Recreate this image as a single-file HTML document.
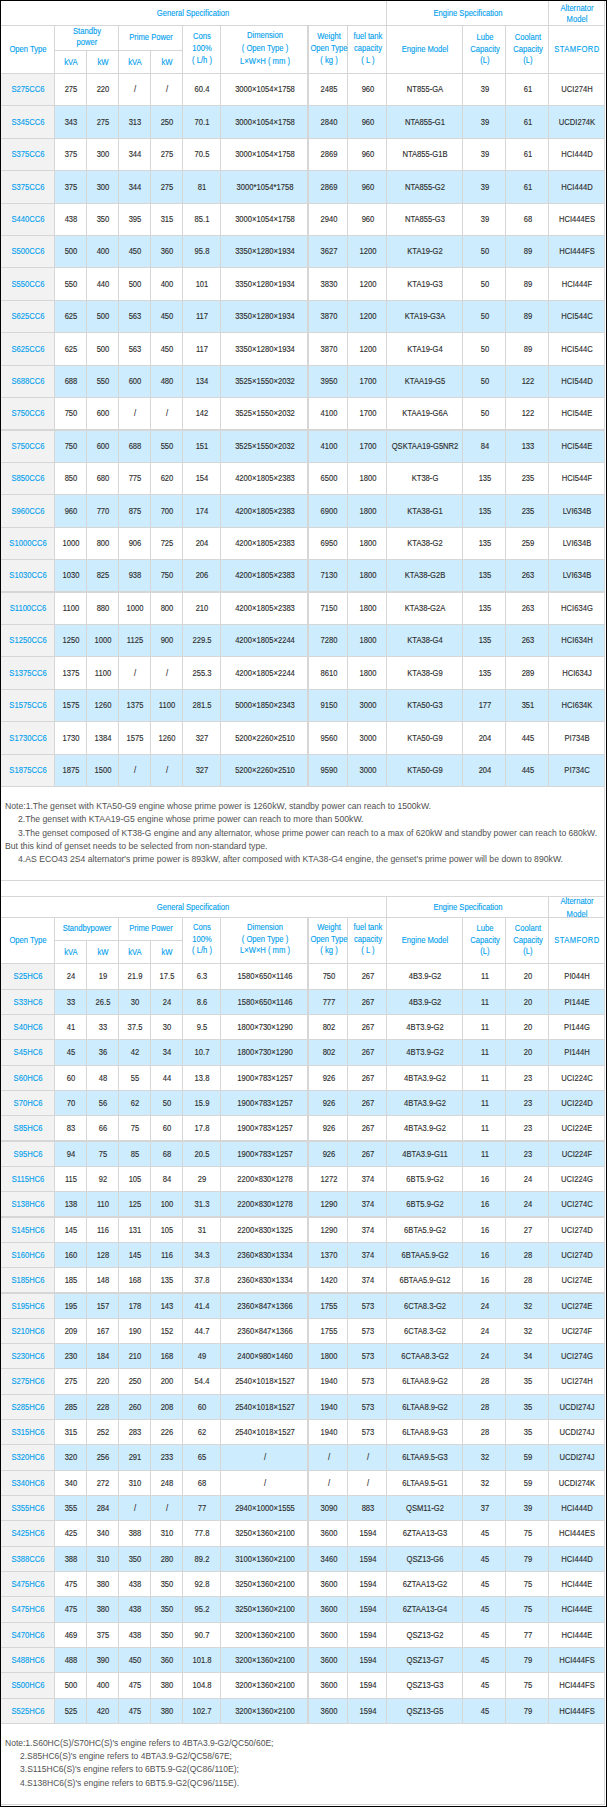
<!DOCTYPE html>
<html><head><meta charset="utf-8"><title>Genset specification</title><style>
html,body{margin:0;padding:0;background:#fff}
body{width:607px;height:1807px;position:relative;overflow:hidden;font-family:"Liberation Sans",sans-serif}
#pg{position:absolute;left:0;top:0;width:605px;height:1805px;border:1px solid #000}
svg{position:absolute;left:0;top:0}
.t{position:absolute;width:120px;height:12px;line-height:12px;text-align:center;white-space:nowrap;font-size:8.2px;transform:scaleX(.93);-webkit-text-stroke:.12px currentColor}
.s{letter-spacing:.42px}
.h{color:#00a0ee}
.d{color:#2b2b2b}
.n{position:absolute;height:12px;line-height:12px;white-space:nowrap;font-size:8.2px;color:#505050;transform-origin:0 50%}
</style></head>
<body>
<svg width="607" height="1807" viewBox="0 0 607 1807">
<rect x="1" y="74" width="53" height="31" fill="#f2f2f2"/>
<rect x="1" y="106" width="53" height="32" fill="#f2f2f2"/>
<rect x="55" y="106" width="549" height="32" fill="#cdecfd"/>
<rect x="1" y="139" width="53" height="31" fill="#f2f2f2"/>
<rect x="1" y="171" width="53" height="32" fill="#f2f2f2"/>
<rect x="55" y="171" width="549" height="32" fill="#cdecfd"/>
<rect x="1" y="204" width="53" height="31" fill="#f2f2f2"/>
<rect x="1" y="236" width="53" height="31" fill="#f2f2f2"/>
<rect x="55" y="236" width="549" height="31" fill="#cdecfd"/>
<rect x="1" y="268" width="53" height="32" fill="#f2f2f2"/>
<rect x="1" y="301" width="53" height="31" fill="#f2f2f2"/>
<rect x="55" y="301" width="549" height="31" fill="#cdecfd"/>
<rect x="1" y="333" width="53" height="32" fill="#f2f2f2"/>
<rect x="1" y="366" width="53" height="31" fill="#f2f2f2"/>
<rect x="55" y="366" width="549" height="31" fill="#cdecfd"/>
<rect x="1" y="398" width="53" height="31" fill="#f2f2f2"/>
<rect x="1" y="431" width="53" height="31" fill="#f2f2f2"/>
<rect x="55" y="431" width="549" height="31" fill="#cdecfd"/>
<rect x="1" y="463" width="53" height="31" fill="#f2f2f2"/>
<rect x="1" y="495" width="53" height="32" fill="#f2f2f2"/>
<rect x="55" y="495" width="549" height="32" fill="#cdecfd"/>
<rect x="1" y="528" width="53" height="31" fill="#f2f2f2"/>
<rect x="1" y="560" width="53" height="31" fill="#f2f2f2"/>
<rect x="55" y="560" width="549" height="31" fill="#cdecfd"/>
<rect x="1" y="593" width="53" height="31" fill="#f2f2f2"/>
<rect x="1" y="625" width="53" height="31" fill="#f2f2f2"/>
<rect x="55" y="625" width="549" height="31" fill="#cdecfd"/>
<rect x="1" y="657" width="53" height="32" fill="#f2f2f2"/>
<rect x="1" y="690" width="53" height="31" fill="#f2f2f2"/>
<rect x="55" y="690" width="549" height="31" fill="#cdecfd"/>
<rect x="1" y="722" width="53" height="32" fill="#f2f2f2"/>
<rect x="1" y="755" width="53" height="31" fill="#f2f2f2"/>
<rect x="55" y="755" width="549" height="31" fill="#cdecfd"/>
<rect x="1" y="25" width="604" height="1" fill="#d6d6d6"/>
<rect x="54" y="50" width="128" height="1" fill="#d6d6d6"/>
<rect x="1" y="73" width="604" height="1" fill="#d6d6d6"/>
<rect x="1" y="105" width="604" height="1" fill="#d6d6d6"/>
<rect x="1" y="138" width="604" height="1" fill="#d6d6d6"/>
<rect x="1" y="170" width="604" height="1" fill="#d6d6d6"/>
<rect x="1" y="203" width="604" height="1" fill="#d6d6d6"/>
<rect x="1" y="235" width="604" height="1" fill="#d6d6d6"/>
<rect x="1" y="267" width="604" height="1" fill="#d6d6d6"/>
<rect x="1" y="300" width="604" height="1" fill="#d6d6d6"/>
<rect x="1" y="332" width="604" height="1" fill="#d6d6d6"/>
<rect x="1" y="365" width="604" height="1" fill="#d6d6d6"/>
<rect x="1" y="397" width="604" height="1" fill="#d6d6d6"/>
<rect x="1" y="429" width="604" height="2" fill="#d6d6d6"/>
<rect x="1" y="462" width="604" height="1" fill="#d6d6d6"/>
<rect x="1" y="494" width="604" height="1" fill="#d6d6d6"/>
<rect x="1" y="527" width="604" height="1" fill="#d6d6d6"/>
<rect x="1" y="559" width="604" height="1" fill="#d6d6d6"/>
<rect x="1" y="591" width="604" height="2" fill="#d6d6d6"/>
<rect x="1" y="624" width="604" height="1" fill="#d6d6d6"/>
<rect x="1" y="656" width="604" height="1" fill="#d6d6d6"/>
<rect x="1" y="689" width="604" height="1" fill="#d6d6d6"/>
<rect x="1" y="721" width="604" height="1" fill="#d6d6d6"/>
<rect x="1" y="754" width="604" height="1" fill="#d6d6d6"/>
<rect x="1" y="786" width="604" height="1" fill="#d6d6d6"/>
<rect x="54" y="25" width="1" height="762" fill="#d6d6d6"/>
<rect x="86" y="50" width="1" height="737" fill="#d6d6d6"/>
<rect x="118" y="25" width="1" height="762" fill="#d6d6d6"/>
<rect x="150" y="50" width="1" height="737" fill="#d6d6d6"/>
<rect x="182" y="25" width="1" height="762" fill="#d6d6d6"/>
<rect x="220" y="25" width="1" height="762" fill="#d6d6d6"/>
<rect x="307" y="25" width="2" height="762" fill="#d6d6d6"/>
<rect x="347" y="25" width="1" height="762" fill="#d6d6d6"/>
<rect x="386" y="1" width="1" height="786" fill="#d6d6d6"/>
<rect x="462" y="25" width="1" height="762" fill="#d6d6d6"/>
<rect x="505" y="25" width="1" height="762" fill="#d6d6d6"/>
<rect x="548" y="1" width="1" height="786" fill="#d6d6d6"/>
<rect x="604" y="1" width="1" height="786" fill="#d6d6d6"/>
<rect x="1" y="880" width="604" height="1" fill="#d6d6d6"/>
<rect x="1" y="964" width="53" height="25" fill="#f2f2f2"/>
<rect x="1" y="990" width="53" height="24" fill="#f2f2f2"/>
<rect x="55" y="990" width="549" height="24" fill="#cdecfd"/>
<rect x="1" y="1015" width="53" height="24" fill="#f2f2f2"/>
<rect x="1" y="1040" width="53" height="25" fill="#f2f2f2"/>
<rect x="55" y="1040" width="549" height="25" fill="#cdecfd"/>
<rect x="1" y="1066" width="53" height="24" fill="#f2f2f2"/>
<rect x="1" y="1091" width="53" height="24" fill="#f2f2f2"/>
<rect x="55" y="1091" width="549" height="24" fill="#cdecfd"/>
<rect x="1" y="1116" width="53" height="24" fill="#f2f2f2"/>
<rect x="1" y="1142" width="53" height="24" fill="#f2f2f2"/>
<rect x="55" y="1142" width="549" height="24" fill="#cdecfd"/>
<rect x="1" y="1167" width="53" height="24" fill="#f2f2f2"/>
<rect x="1" y="1192" width="53" height="24" fill="#f2f2f2"/>
<rect x="55" y="1192" width="549" height="24" fill="#cdecfd"/>
<rect x="1" y="1218" width="53" height="24" fill="#f2f2f2"/>
<rect x="1" y="1243" width="53" height="24" fill="#f2f2f2"/>
<rect x="55" y="1243" width="549" height="24" fill="#cdecfd"/>
<rect x="1" y="1268" width="53" height="24" fill="#f2f2f2"/>
<rect x="1" y="1294" width="53" height="24" fill="#f2f2f2"/>
<rect x="55" y="1294" width="549" height="24" fill="#cdecfd"/>
<rect x="1" y="1319" width="53" height="24" fill="#f2f2f2"/>
<rect x="1" y="1344" width="53" height="24" fill="#f2f2f2"/>
<rect x="55" y="1344" width="549" height="24" fill="#cdecfd"/>
<rect x="1" y="1369" width="53" height="25" fill="#f2f2f2"/>
<rect x="1" y="1395" width="53" height="24" fill="#f2f2f2"/>
<rect x="55" y="1395" width="549" height="24" fill="#cdecfd"/>
<rect x="1" y="1420" width="53" height="24" fill="#f2f2f2"/>
<rect x="1" y="1445" width="53" height="25" fill="#f2f2f2"/>
<rect x="55" y="1445" width="549" height="25" fill="#cdecfd"/>
<rect x="1" y="1471" width="53" height="24" fill="#f2f2f2"/>
<rect x="1" y="1496" width="53" height="24" fill="#f2f2f2"/>
<rect x="55" y="1496" width="549" height="24" fill="#cdecfd"/>
<rect x="1" y="1521" width="53" height="25" fill="#f2f2f2"/>
<rect x="1" y="1547" width="53" height="24" fill="#f2f2f2"/>
<rect x="55" y="1547" width="549" height="24" fill="#cdecfd"/>
<rect x="1" y="1572" width="53" height="24" fill="#f2f2f2"/>
<rect x="1" y="1597" width="53" height="25" fill="#f2f2f2"/>
<rect x="55" y="1597" width="549" height="25" fill="#cdecfd"/>
<rect x="1" y="1623" width="53" height="24" fill="#f2f2f2"/>
<rect x="1" y="1648" width="53" height="24" fill="#f2f2f2"/>
<rect x="55" y="1648" width="549" height="24" fill="#cdecfd"/>
<rect x="1" y="1673" width="53" height="25" fill="#f2f2f2"/>
<rect x="1" y="1699" width="53" height="24" fill="#f2f2f2"/>
<rect x="55" y="1699" width="549" height="24" fill="#cdecfd"/>
<rect x="1" y="896" width="604" height="1" fill="#d6d6d6"/>
<rect x="1" y="917" width="604" height="1" fill="#d6d6d6"/>
<rect x="54" y="940" width="128" height="1" fill="#d6d6d6"/>
<rect x="1" y="963" width="604" height="1" fill="#d6d6d6"/>
<rect x="1" y="989" width="604" height="1" fill="#d6d6d6"/>
<rect x="1" y="1014" width="604" height="1" fill="#d6d6d6"/>
<rect x="1" y="1039" width="604" height="1" fill="#d6d6d6"/>
<rect x="1" y="1065" width="604" height="1" fill="#d6d6d6"/>
<rect x="1" y="1090" width="604" height="1" fill="#d6d6d6"/>
<rect x="1" y="1115" width="604" height="1" fill="#d6d6d6"/>
<rect x="1" y="1140" width="604" height="2" fill="#d6d6d6"/>
<rect x="1" y="1166" width="604" height="1" fill="#d6d6d6"/>
<rect x="1" y="1191" width="604" height="1" fill="#d6d6d6"/>
<rect x="1" y="1216" width="604" height="2" fill="#d6d6d6"/>
<rect x="1" y="1242" width="604" height="1" fill="#d6d6d6"/>
<rect x="1" y="1267" width="604" height="1" fill="#d6d6d6"/>
<rect x="1" y="1292" width="604" height="2" fill="#d6d6d6"/>
<rect x="1" y="1318" width="604" height="1" fill="#d6d6d6"/>
<rect x="1" y="1343" width="604" height="1" fill="#d6d6d6"/>
<rect x="1" y="1368" width="604" height="1" fill="#d6d6d6"/>
<rect x="1" y="1394" width="604" height="1" fill="#d6d6d6"/>
<rect x="1" y="1419" width="604" height="1" fill="#d6d6d6"/>
<rect x="1" y="1444" width="604" height="1" fill="#d6d6d6"/>
<rect x="1" y="1470" width="604" height="1" fill="#d6d6d6"/>
<rect x="1" y="1495" width="604" height="1" fill="#d6d6d6"/>
<rect x="1" y="1520" width="604" height="1" fill="#d6d6d6"/>
<rect x="1" y="1546" width="604" height="1" fill="#d6d6d6"/>
<rect x="1" y="1571" width="604" height="1" fill="#d6d6d6"/>
<rect x="1" y="1596" width="604" height="1" fill="#d6d6d6"/>
<rect x="1" y="1622" width="604" height="1" fill="#d6d6d6"/>
<rect x="1" y="1647" width="604" height="1" fill="#d6d6d6"/>
<rect x="1" y="1672" width="604" height="1" fill="#d6d6d6"/>
<rect x="1" y="1698" width="604" height="1" fill="#d6d6d6"/>
<rect x="1" y="1723" width="604" height="1" fill="#d6d6d6"/>
<rect x="54" y="917" width="1" height="807" fill="#d6d6d6"/>
<rect x="86" y="940" width="1" height="784" fill="#d6d6d6"/>
<rect x="118" y="917" width="1" height="807" fill="#d6d6d6"/>
<rect x="150" y="940" width="1" height="784" fill="#d6d6d6"/>
<rect x="182" y="917" width="1" height="807" fill="#d6d6d6"/>
<rect x="220" y="917" width="1" height="807" fill="#d6d6d6"/>
<rect x="307" y="917" width="2" height="807" fill="#d6d6d6"/>
<rect x="347" y="917" width="1" height="807" fill="#d6d6d6"/>
<rect x="386" y="896" width="1" height="828" fill="#d6d6d6"/>
<rect x="462" y="917" width="1" height="807" fill="#d6d6d6"/>
<rect x="505" y="917" width="1" height="807" fill="#d6d6d6"/>
<rect x="548" y="896" width="1" height="828" fill="#d6d6d6"/>
<rect x="604" y="896" width="1" height="828" fill="#d6d6d6"/>
<rect x="604" y="1" width="1" height="1804" fill="#d6d6d6"/>
<rect x="1" y="1804" width="604" height="1" fill="#d6d6d6"/>
</svg>
<div class="t h" style="left:132.80px;top:8.00px">General Specification</div>
<div class="t h" style="left:407.50px;top:8.00px">Engine Specification</div>
<div class="t h" style="left:516.50px;top:3.40px">Alternator</div>
<div class="t h" style="left:516.50px;top:14.20px">Model</div>
<div class="t h" style="left:-32.30px;top:43.50px">Open Type</div>
<div class="t h" style="left:26.50px;top:26.00px">Standby</div>
<div class="t h" style="left:26.50px;top:37.00px">power</div>
<div class="t h" style="left:90.50px;top:32.00px">Prime Power</div>
<div class="t h" style="left:11.00px;top:56.60px">kVA</div>
<div class="t h" style="left:43.00px;top:56.60px">kW</div>
<div class="t h" style="left:75.00px;top:56.60px">kVA</div>
<div class="t h" style="left:107.00px;top:56.60px">kW</div>
<div class="t h" style="left:142.00px;top:30.50px">Cons</div>
<div class="t h" style="left:142.00px;top:42.60px">100%</div>
<div class="t h" style="left:142.00px;top:54.70px">( L/h )</div>
<div class="t h" style="left:204.50px;top:29.60px">Dimension</div>
<div class="t h" style="left:204.50px;top:42.60px">( Open Type )</div>
<div class="t h" style="left:204.50px;top:55.60px">L×W×H ( mm )</div>
<div class="t h" style="left:268.50px;top:30.50px">Weight</div>
<div class="t h" style="left:268.50px;top:42.60px">Open Type</div>
<div class="t h" style="left:268.50px;top:54.70px">( kg )</div>
<div class="t h" style="left:307.50px;top:30.50px">fuel tank</div>
<div class="t h" style="left:307.50px;top:42.60px">capacity</div>
<div class="t h" style="left:307.50px;top:54.70px">( L )</div>
<div class="t h" style="left:424.50px;top:31.90px">Lube</div>
<div class="t h" style="left:424.50px;top:43.50px">Capacity</div>
<div class="t h" style="left:424.50px;top:55.10px">(L)</div>
<div class="t h" style="left:467.50px;top:31.90px">Coolant</div>
<div class="t h" style="left:467.50px;top:43.50px">Capacity</div>
<div class="t h" style="left:467.50px;top:55.10px">(L)</div>
<div class="t h" style="left:365.00px;top:43.50px">Engine Model</div>
<div class="t h s" style="left:517.20px;top:43.50px">STAMFORD</div>
<div class="t h" style="left:-31.60px;top:84.01px">S275CC6</div>
<div class="t d" style="left:11.00px;top:84.01px">275</div>
<div class="t d" style="left:43.00px;top:84.01px">220</div>
<div class="t d" style="left:75.00px;top:84.01px">/</div>
<div class="t d" style="left:107.00px;top:84.01px">/</div>
<div class="t d" style="left:142.00px;top:84.01px">60.4</div>
<div class="t d" style="left:204.50px;top:84.01px">3000×1054×1758</div>
<div class="t d" style="left:268.50px;top:84.01px">2485</div>
<div class="t d" style="left:307.50px;top:84.01px">960</div>
<div class="t d" style="left:365.00px;top:84.01px">NT855-GA</div>
<div class="t d" style="left:424.50px;top:84.01px">39</div>
<div class="t d" style="left:467.50px;top:84.01px">61</div>
<div class="t d" style="left:517.00px;top:84.01px">UCI274H</div>
<div class="t h" style="left:-31.60px;top:116.51px">S345CC6</div>
<div class="t d" style="left:11.00px;top:116.51px">343</div>
<div class="t d" style="left:43.00px;top:116.51px">275</div>
<div class="t d" style="left:75.00px;top:116.51px">313</div>
<div class="t d" style="left:107.00px;top:116.51px">250</div>
<div class="t d" style="left:142.00px;top:116.51px">70.1</div>
<div class="t d" style="left:204.50px;top:116.51px">3000×1054×1758</div>
<div class="t d" style="left:268.50px;top:116.51px">2840</div>
<div class="t d" style="left:307.50px;top:116.51px">960</div>
<div class="t d" style="left:365.00px;top:116.51px">NTA855-G1</div>
<div class="t d" style="left:424.50px;top:116.51px">39</div>
<div class="t d" style="left:467.50px;top:116.51px">61</div>
<div class="t d" style="left:517.00px;top:116.51px">UCDI274K</div>
<div class="t h" style="left:-31.60px;top:149.01px">S375CC6</div>
<div class="t d" style="left:11.00px;top:149.01px">375</div>
<div class="t d" style="left:43.00px;top:149.01px">300</div>
<div class="t d" style="left:75.00px;top:149.01px">344</div>
<div class="t d" style="left:107.00px;top:149.01px">275</div>
<div class="t d" style="left:142.00px;top:149.01px">70.5</div>
<div class="t d" style="left:204.50px;top:149.01px">3000×1054×1758</div>
<div class="t d" style="left:268.50px;top:149.01px">2869</div>
<div class="t d" style="left:307.50px;top:149.01px">960</div>
<div class="t d" style="left:365.00px;top:149.01px">NTA855-G1B</div>
<div class="t d" style="left:424.50px;top:149.01px">39</div>
<div class="t d" style="left:467.50px;top:149.01px">61</div>
<div class="t d" style="left:517.00px;top:149.01px">HCI444D</div>
<div class="t h" style="left:-31.60px;top:181.51px">S375CC6</div>
<div class="t d" style="left:11.00px;top:181.51px">375</div>
<div class="t d" style="left:43.00px;top:181.51px">300</div>
<div class="t d" style="left:75.00px;top:181.51px">344</div>
<div class="t d" style="left:107.00px;top:181.51px">275</div>
<div class="t d" style="left:142.00px;top:181.51px">81</div>
<div class="t d" style="left:204.50px;top:181.51px">3000*1054*1758</div>
<div class="t d" style="left:268.50px;top:181.51px">2869</div>
<div class="t d" style="left:307.50px;top:181.51px">960</div>
<div class="t d" style="left:365.00px;top:181.51px">NTA855-G2</div>
<div class="t d" style="left:424.50px;top:181.51px">39</div>
<div class="t d" style="left:467.50px;top:181.51px">61</div>
<div class="t d" style="left:517.00px;top:181.51px">HCI444D</div>
<div class="t h" style="left:-31.60px;top:214.01px">S440CC6</div>
<div class="t d" style="left:11.00px;top:214.01px">438</div>
<div class="t d" style="left:43.00px;top:214.01px">350</div>
<div class="t d" style="left:75.00px;top:214.01px">395</div>
<div class="t d" style="left:107.00px;top:214.01px">315</div>
<div class="t d" style="left:142.00px;top:214.01px">85.1</div>
<div class="t d" style="left:204.50px;top:214.01px">3000×1054×1758</div>
<div class="t d" style="left:268.50px;top:214.01px">2940</div>
<div class="t d" style="left:307.50px;top:214.01px">960</div>
<div class="t d" style="left:365.00px;top:214.01px">NTA855-G3</div>
<div class="t d" style="left:424.50px;top:214.01px">39</div>
<div class="t d" style="left:467.50px;top:214.01px">68</div>
<div class="t d" style="left:517.00px;top:214.01px">HCI444ES</div>
<div class="t h" style="left:-31.60px;top:246.01px">S500CC6</div>
<div class="t d" style="left:11.00px;top:246.01px">500</div>
<div class="t d" style="left:43.00px;top:246.01px">400</div>
<div class="t d" style="left:75.00px;top:246.01px">450</div>
<div class="t d" style="left:107.00px;top:246.01px">360</div>
<div class="t d" style="left:142.00px;top:246.01px">95.8</div>
<div class="t d" style="left:204.50px;top:246.01px">3350×1280×1934</div>
<div class="t d" style="left:268.50px;top:246.01px">3627</div>
<div class="t d" style="left:307.50px;top:246.01px">1200</div>
<div class="t d" style="left:365.00px;top:246.01px">KTA19-G2</div>
<div class="t d" style="left:424.50px;top:246.01px">50</div>
<div class="t d" style="left:467.50px;top:246.01px">89</div>
<div class="t d" style="left:517.00px;top:246.01px">HCI444FS</div>
<div class="t h" style="left:-31.60px;top:278.51px">S550CC6</div>
<div class="t d" style="left:11.00px;top:278.51px">550</div>
<div class="t d" style="left:43.00px;top:278.51px">440</div>
<div class="t d" style="left:75.00px;top:278.51px">500</div>
<div class="t d" style="left:107.00px;top:278.51px">400</div>
<div class="t d" style="left:142.00px;top:278.51px">101</div>
<div class="t d" style="left:204.50px;top:278.51px">3350×1280×1934</div>
<div class="t d" style="left:268.50px;top:278.51px">3830</div>
<div class="t d" style="left:307.50px;top:278.51px">1200</div>
<div class="t d" style="left:365.00px;top:278.51px">KTA19-G3</div>
<div class="t d" style="left:424.50px;top:278.51px">50</div>
<div class="t d" style="left:467.50px;top:278.51px">89</div>
<div class="t d" style="left:517.00px;top:278.51px">HCI444F</div>
<div class="t h" style="left:-31.60px;top:311.01px">S625CC6</div>
<div class="t d" style="left:11.00px;top:311.01px">625</div>
<div class="t d" style="left:43.00px;top:311.01px">500</div>
<div class="t d" style="left:75.00px;top:311.01px">563</div>
<div class="t d" style="left:107.00px;top:311.01px">450</div>
<div class="t d" style="left:142.00px;top:311.01px">117</div>
<div class="t d" style="left:204.50px;top:311.01px">3350×1280×1934</div>
<div class="t d" style="left:268.50px;top:311.01px">3870</div>
<div class="t d" style="left:307.50px;top:311.01px">1200</div>
<div class="t d" style="left:365.00px;top:311.01px">KTA19-G3A</div>
<div class="t d" style="left:424.50px;top:311.01px">50</div>
<div class="t d" style="left:467.50px;top:311.01px">89</div>
<div class="t d" style="left:517.00px;top:311.01px">HCI544C</div>
<div class="t h" style="left:-31.60px;top:343.51px">S625CC6</div>
<div class="t d" style="left:11.00px;top:343.51px">625</div>
<div class="t d" style="left:43.00px;top:343.51px">500</div>
<div class="t d" style="left:75.00px;top:343.51px">563</div>
<div class="t d" style="left:107.00px;top:343.51px">450</div>
<div class="t d" style="left:142.00px;top:343.51px">117</div>
<div class="t d" style="left:204.50px;top:343.51px">3350×1280×1934</div>
<div class="t d" style="left:268.50px;top:343.51px">3870</div>
<div class="t d" style="left:307.50px;top:343.51px">1200</div>
<div class="t d" style="left:365.00px;top:343.51px">KTA19-G4</div>
<div class="t d" style="left:424.50px;top:343.51px">50</div>
<div class="t d" style="left:467.50px;top:343.51px">89</div>
<div class="t d" style="left:517.00px;top:343.51px">HCI544C</div>
<div class="t h" style="left:-31.60px;top:376.01px">S688CC6</div>
<div class="t d" style="left:11.00px;top:376.01px">688</div>
<div class="t d" style="left:43.00px;top:376.01px">550</div>
<div class="t d" style="left:75.00px;top:376.01px">600</div>
<div class="t d" style="left:107.00px;top:376.01px">480</div>
<div class="t d" style="left:142.00px;top:376.01px">134</div>
<div class="t d" style="left:204.50px;top:376.01px">3525×1550×2032</div>
<div class="t d" style="left:268.50px;top:376.01px">3950</div>
<div class="t d" style="left:307.50px;top:376.01px">1700</div>
<div class="t d" style="left:365.00px;top:376.01px">KTAA19-G5</div>
<div class="t d" style="left:424.50px;top:376.01px">50</div>
<div class="t d" style="left:467.50px;top:376.01px">122</div>
<div class="t d" style="left:517.00px;top:376.01px">HCI544D</div>
<div class="t h" style="left:-31.60px;top:408.01px">S750CC6</div>
<div class="t d" style="left:11.00px;top:408.01px">750</div>
<div class="t d" style="left:43.00px;top:408.01px">600</div>
<div class="t d" style="left:75.00px;top:408.01px">/</div>
<div class="t d" style="left:107.00px;top:408.01px">/</div>
<div class="t d" style="left:142.00px;top:408.01px">142</div>
<div class="t d" style="left:204.50px;top:408.01px">3525×1550×2032</div>
<div class="t d" style="left:268.50px;top:408.01px">4100</div>
<div class="t d" style="left:307.50px;top:408.01px">1700</div>
<div class="t d" style="left:365.00px;top:408.01px">KTAA19-G6A</div>
<div class="t d" style="left:424.50px;top:408.01px">50</div>
<div class="t d" style="left:467.50px;top:408.01px">122</div>
<div class="t d" style="left:517.00px;top:408.01px">HCI544E</div>
<div class="t h" style="left:-31.60px;top:441.01px">S750CC6</div>
<div class="t d" style="left:11.00px;top:441.01px">750</div>
<div class="t d" style="left:43.00px;top:441.01px">600</div>
<div class="t d" style="left:75.00px;top:441.01px">688</div>
<div class="t d" style="left:107.00px;top:441.01px">550</div>
<div class="t d" style="left:142.00px;top:441.01px">151</div>
<div class="t d" style="left:204.50px;top:441.01px">3525×1550×2032</div>
<div class="t d" style="left:268.50px;top:441.01px">4100</div>
<div class="t d" style="left:307.50px;top:441.01px">1700</div>
<div class="t d" style="left:365.00px;top:441.01px">QSKTAA19-G5NR2</div>
<div class="t d" style="left:424.50px;top:441.01px">84</div>
<div class="t d" style="left:467.50px;top:441.01px">133</div>
<div class="t d" style="left:517.00px;top:441.01px">HCI544E</div>
<div class="t h" style="left:-31.60px;top:473.01px">S850CC6</div>
<div class="t d" style="left:11.00px;top:473.01px">850</div>
<div class="t d" style="left:43.00px;top:473.01px">680</div>
<div class="t d" style="left:75.00px;top:473.01px">775</div>
<div class="t d" style="left:107.00px;top:473.01px">620</div>
<div class="t d" style="left:142.00px;top:473.01px">154</div>
<div class="t d" style="left:204.50px;top:473.01px">4200×1805×2383</div>
<div class="t d" style="left:268.50px;top:473.01px">6500</div>
<div class="t d" style="left:307.50px;top:473.01px">1800</div>
<div class="t d" style="left:365.00px;top:473.01px">KT38-G</div>
<div class="t d" style="left:424.50px;top:473.01px">135</div>
<div class="t d" style="left:467.50px;top:473.01px">235</div>
<div class="t d" style="left:517.00px;top:473.01px">HCI544F</div>
<div class="t h" style="left:-31.60px;top:505.51px">S960CC6</div>
<div class="t d" style="left:11.00px;top:505.51px">960</div>
<div class="t d" style="left:43.00px;top:505.51px">770</div>
<div class="t d" style="left:75.00px;top:505.51px">875</div>
<div class="t d" style="left:107.00px;top:505.51px">700</div>
<div class="t d" style="left:142.00px;top:505.51px">174</div>
<div class="t d" style="left:204.50px;top:505.51px">4200×1805×2383</div>
<div class="t d" style="left:268.50px;top:505.51px">6900</div>
<div class="t d" style="left:307.50px;top:505.51px">1800</div>
<div class="t d" style="left:365.00px;top:505.51px">KTA38-G1</div>
<div class="t d" style="left:424.50px;top:505.51px">135</div>
<div class="t d" style="left:467.50px;top:505.51px">235</div>
<div class="t d" style="left:517.00px;top:505.51px">LVI634B</div>
<div class="t h" style="left:-31.60px;top:538.01px">S1000CC6</div>
<div class="t d" style="left:11.00px;top:538.01px">1000</div>
<div class="t d" style="left:43.00px;top:538.01px">800</div>
<div class="t d" style="left:75.00px;top:538.01px">906</div>
<div class="t d" style="left:107.00px;top:538.01px">725</div>
<div class="t d" style="left:142.00px;top:538.01px">204</div>
<div class="t d" style="left:204.50px;top:538.01px">4200×1805×2383</div>
<div class="t d" style="left:268.50px;top:538.01px">6950</div>
<div class="t d" style="left:307.50px;top:538.01px">1800</div>
<div class="t d" style="left:365.00px;top:538.01px">KTA38-G2</div>
<div class="t d" style="left:424.50px;top:538.01px">135</div>
<div class="t d" style="left:467.50px;top:538.01px">259</div>
<div class="t d" style="left:517.00px;top:538.01px">LVI634B</div>
<div class="t h" style="left:-31.60px;top:570.01px">S1030CC6</div>
<div class="t d" style="left:11.00px;top:570.01px">1030</div>
<div class="t d" style="left:43.00px;top:570.01px">825</div>
<div class="t d" style="left:75.00px;top:570.01px">938</div>
<div class="t d" style="left:107.00px;top:570.01px">750</div>
<div class="t d" style="left:142.00px;top:570.01px">206</div>
<div class="t d" style="left:204.50px;top:570.01px">4200×1805×2383</div>
<div class="t d" style="left:268.50px;top:570.01px">7130</div>
<div class="t d" style="left:307.50px;top:570.01px">1800</div>
<div class="t d" style="left:365.00px;top:570.01px">KTA38-G2B</div>
<div class="t d" style="left:424.50px;top:570.01px">135</div>
<div class="t d" style="left:467.50px;top:570.01px">263</div>
<div class="t d" style="left:517.00px;top:570.01px">LVI634B</div>
<div class="t h" style="left:-31.60px;top:603.01px">S1100CC6</div>
<div class="t d" style="left:11.00px;top:603.01px">1100</div>
<div class="t d" style="left:43.00px;top:603.01px">880</div>
<div class="t d" style="left:75.00px;top:603.01px">1000</div>
<div class="t d" style="left:107.00px;top:603.01px">800</div>
<div class="t d" style="left:142.00px;top:603.01px">210</div>
<div class="t d" style="left:204.50px;top:603.01px">4200×1805×2383</div>
<div class="t d" style="left:268.50px;top:603.01px">7150</div>
<div class="t d" style="left:307.50px;top:603.01px">1800</div>
<div class="t d" style="left:365.00px;top:603.01px">KTA38-G2A</div>
<div class="t d" style="left:424.50px;top:603.01px">135</div>
<div class="t d" style="left:467.50px;top:603.01px">263</div>
<div class="t d" style="left:517.00px;top:603.01px">HCI634G</div>
<div class="t h" style="left:-31.60px;top:635.01px">S1250CC6</div>
<div class="t d" style="left:11.00px;top:635.01px">1250</div>
<div class="t d" style="left:43.00px;top:635.01px">1000</div>
<div class="t d" style="left:75.00px;top:635.01px">1125</div>
<div class="t d" style="left:107.00px;top:635.01px">900</div>
<div class="t d" style="left:142.00px;top:635.01px">229.5</div>
<div class="t d" style="left:204.50px;top:635.01px">4200×1805×2244</div>
<div class="t d" style="left:268.50px;top:635.01px">7280</div>
<div class="t d" style="left:307.50px;top:635.01px">1800</div>
<div class="t d" style="left:365.00px;top:635.01px">KTA38-G4</div>
<div class="t d" style="left:424.50px;top:635.01px">135</div>
<div class="t d" style="left:467.50px;top:635.01px">263</div>
<div class="t d" style="left:517.00px;top:635.01px">HCI634H</div>
<div class="t h" style="left:-31.60px;top:667.51px">S1375CC6</div>
<div class="t d" style="left:11.00px;top:667.51px">1375</div>
<div class="t d" style="left:43.00px;top:667.51px">1100</div>
<div class="t d" style="left:75.00px;top:667.51px">/</div>
<div class="t d" style="left:107.00px;top:667.51px">/</div>
<div class="t d" style="left:142.00px;top:667.51px">255.3</div>
<div class="t d" style="left:204.50px;top:667.51px">4200×1805×2244</div>
<div class="t d" style="left:268.50px;top:667.51px">8610</div>
<div class="t d" style="left:307.50px;top:667.51px">1800</div>
<div class="t d" style="left:365.00px;top:667.51px">KTA38-G9</div>
<div class="t d" style="left:424.50px;top:667.51px">135</div>
<div class="t d" style="left:467.50px;top:667.51px">289</div>
<div class="t d" style="left:517.00px;top:667.51px">HCI634J</div>
<div class="t h" style="left:-31.60px;top:700.01px">S1575CC6</div>
<div class="t d" style="left:11.00px;top:700.01px">1575</div>
<div class="t d" style="left:43.00px;top:700.01px">1260</div>
<div class="t d" style="left:75.00px;top:700.01px">1375</div>
<div class="t d" style="left:107.00px;top:700.01px">1100</div>
<div class="t d" style="left:142.00px;top:700.01px">281.5</div>
<div class="t d" style="left:204.50px;top:700.01px">5000×1850×2343</div>
<div class="t d" style="left:268.50px;top:700.01px">9150</div>
<div class="t d" style="left:307.50px;top:700.01px">3000</div>
<div class="t d" style="left:365.00px;top:700.01px">KTA50-G3</div>
<div class="t d" style="left:424.50px;top:700.01px">177</div>
<div class="t d" style="left:467.50px;top:700.01px">351</div>
<div class="t d" style="left:517.00px;top:700.01px">HCI634K</div>
<div class="t h" style="left:-31.60px;top:732.51px">S1730CC6</div>
<div class="t d" style="left:11.00px;top:732.51px">1730</div>
<div class="t d" style="left:43.00px;top:732.51px">1384</div>
<div class="t d" style="left:75.00px;top:732.51px">1575</div>
<div class="t d" style="left:107.00px;top:732.51px">1260</div>
<div class="t d" style="left:142.00px;top:732.51px">327</div>
<div class="t d" style="left:204.50px;top:732.51px">5200×2260×2510</div>
<div class="t d" style="left:268.50px;top:732.51px">9560</div>
<div class="t d" style="left:307.50px;top:732.51px">3000</div>
<div class="t d" style="left:365.00px;top:732.51px">KTA50-G9</div>
<div class="t d" style="left:424.50px;top:732.51px">204</div>
<div class="t d" style="left:467.50px;top:732.51px">445</div>
<div class="t d" style="left:517.00px;top:732.51px">PI734B</div>
<div class="t h" style="left:-31.60px;top:765.01px">S1875CC6</div>
<div class="t d" style="left:11.00px;top:765.01px">1875</div>
<div class="t d" style="left:43.00px;top:765.01px">1500</div>
<div class="t d" style="left:75.00px;top:765.01px">/</div>
<div class="t d" style="left:107.00px;top:765.01px">/</div>
<div class="t d" style="left:142.00px;top:765.01px">327</div>
<div class="t d" style="left:204.50px;top:765.01px">5200×2260×2510</div>
<div class="t d" style="left:268.50px;top:765.01px">9590</div>
<div class="t d" style="left:307.50px;top:765.01px">3000</div>
<div class="t d" style="left:365.00px;top:765.01px">KTA50-G9</div>
<div class="t d" style="left:424.50px;top:765.01px">204</div>
<div class="t d" style="left:467.50px;top:765.01px">445</div>
<div class="t d" style="left:517.00px;top:765.01px">PI734C</div>
<div class="t h" style="left:132.80px;top:902.00px">General Specification</div>
<div class="t h" style="left:407.50px;top:902.00px">Engine Specification</div>
<div class="t h" style="left:516.50px;top:896.20px">Alternator</div>
<div class="t h" style="left:516.50px;top:908.50px">Model</div>
<div class="t h" style="left:-32.30px;top:934.50px">Open Type</div>
<div class="t h" style="left:26.50px;top:923.00px">Standbypower</div>
<div class="t h" style="left:90.50px;top:923.00px">Prime Power</div>
<div class="t h" style="left:11.00px;top:946.80px">kVA</div>
<div class="t h" style="left:43.00px;top:946.80px">kW</div>
<div class="t h" style="left:75.00px;top:946.80px">kVA</div>
<div class="t h" style="left:107.00px;top:946.80px">kW</div>
<div class="t h" style="left:142.00px;top:922.30px">Cons</div>
<div class="t h" style="left:142.00px;top:933.80px">100%</div>
<div class="t h" style="left:142.00px;top:945.30px">( L/h )</div>
<div class="t h" style="left:204.50px;top:922.30px">Dimension</div>
<div class="t h" style="left:204.50px;top:933.80px">( Open Type )</div>
<div class="t h" style="left:204.50px;top:945.30px">L×W×H ( mm )</div>
<div class="t h" style="left:268.50px;top:922.30px">Weight</div>
<div class="t h" style="left:268.50px;top:933.80px">Open Type</div>
<div class="t h" style="left:268.50px;top:945.30px">( kg )</div>
<div class="t h" style="left:307.50px;top:922.30px">fuel tank</div>
<div class="t h" style="left:307.50px;top:933.80px">capacity</div>
<div class="t h" style="left:307.50px;top:945.30px">( L )</div>
<div class="t h" style="left:424.50px;top:923.20px">Lube</div>
<div class="t h" style="left:424.50px;top:934.70px">Capacity</div>
<div class="t h" style="left:424.50px;top:946.20px">(L)</div>
<div class="t h" style="left:467.50px;top:923.20px">Coolant</div>
<div class="t h" style="left:467.50px;top:934.70px">Capacity</div>
<div class="t h" style="left:467.50px;top:946.20px">(L)</div>
<div class="t h" style="left:365.00px;top:934.50px">Engine Model</div>
<div class="t h s" style="left:517.20px;top:934.50px">STAMFORD</div>
<div class="t h" style="left:-31.60px;top:971.01px">S25HC6</div>
<div class="t d" style="left:11.00px;top:971.01px">24</div>
<div class="t d" style="left:43.00px;top:971.01px">19</div>
<div class="t d" style="left:75.00px;top:971.01px">21.9</div>
<div class="t d" style="left:107.00px;top:971.01px">17.5</div>
<div class="t d" style="left:142.00px;top:971.01px">6.3</div>
<div class="t d" style="left:204.50px;top:971.01px">1580×650×1146</div>
<div class="t d" style="left:268.50px;top:971.01px">750</div>
<div class="t d" style="left:307.50px;top:971.01px">267</div>
<div class="t d" style="left:365.00px;top:971.01px">4B3.9-G2</div>
<div class="t d" style="left:424.50px;top:971.01px">11</div>
<div class="t d" style="left:467.50px;top:971.01px">20</div>
<div class="t d" style="left:517.00px;top:971.01px">PI044H</div>
<div class="t h" style="left:-31.60px;top:996.51px">S33HC6</div>
<div class="t d" style="left:11.00px;top:996.51px">33</div>
<div class="t d" style="left:43.00px;top:996.51px">26.5</div>
<div class="t d" style="left:75.00px;top:996.51px">30</div>
<div class="t d" style="left:107.00px;top:996.51px">24</div>
<div class="t d" style="left:142.00px;top:996.51px">8.6</div>
<div class="t d" style="left:204.50px;top:996.51px">1580×650×1146</div>
<div class="t d" style="left:268.50px;top:996.51px">777</div>
<div class="t d" style="left:307.50px;top:996.51px">267</div>
<div class="t d" style="left:365.00px;top:996.51px">4B3.9-G2</div>
<div class="t d" style="left:424.50px;top:996.51px">11</div>
<div class="t d" style="left:467.50px;top:996.51px">20</div>
<div class="t d" style="left:517.00px;top:996.51px">PI144E</div>
<div class="t h" style="left:-31.60px;top:1021.51px">S40HC6</div>
<div class="t d" style="left:11.00px;top:1021.51px">41</div>
<div class="t d" style="left:43.00px;top:1021.51px">33</div>
<div class="t d" style="left:75.00px;top:1021.51px">37.5</div>
<div class="t d" style="left:107.00px;top:1021.51px">30</div>
<div class="t d" style="left:142.00px;top:1021.51px">9.5</div>
<div class="t d" style="left:204.50px;top:1021.51px">1800×730×1290</div>
<div class="t d" style="left:268.50px;top:1021.51px">802</div>
<div class="t d" style="left:307.50px;top:1021.51px">267</div>
<div class="t d" style="left:365.00px;top:1021.51px">4BT3.9-G2</div>
<div class="t d" style="left:424.50px;top:1021.51px">11</div>
<div class="t d" style="left:467.50px;top:1021.51px">20</div>
<div class="t d" style="left:517.00px;top:1021.51px">PI144G</div>
<div class="t h" style="left:-31.60px;top:1047.01px">S45HC6</div>
<div class="t d" style="left:11.00px;top:1047.01px">45</div>
<div class="t d" style="left:43.00px;top:1047.01px">36</div>
<div class="t d" style="left:75.00px;top:1047.01px">42</div>
<div class="t d" style="left:107.00px;top:1047.01px">34</div>
<div class="t d" style="left:142.00px;top:1047.01px">10.7</div>
<div class="t d" style="left:204.50px;top:1047.01px">1800×730×1290</div>
<div class="t d" style="left:268.50px;top:1047.01px">802</div>
<div class="t d" style="left:307.50px;top:1047.01px">267</div>
<div class="t d" style="left:365.00px;top:1047.01px">4BT3.9-G2</div>
<div class="t d" style="left:424.50px;top:1047.01px">11</div>
<div class="t d" style="left:467.50px;top:1047.01px">20</div>
<div class="t d" style="left:517.00px;top:1047.01px">PI144H</div>
<div class="t h" style="left:-31.60px;top:1072.51px">S60HC6</div>
<div class="t d" style="left:11.00px;top:1072.51px">60</div>
<div class="t d" style="left:43.00px;top:1072.51px">48</div>
<div class="t d" style="left:75.00px;top:1072.51px">55</div>
<div class="t d" style="left:107.00px;top:1072.51px">44</div>
<div class="t d" style="left:142.00px;top:1072.51px">13.8</div>
<div class="t d" style="left:204.50px;top:1072.51px">1900×783×1257</div>
<div class="t d" style="left:268.50px;top:1072.51px">926</div>
<div class="t d" style="left:307.50px;top:1072.51px">267</div>
<div class="t d" style="left:365.00px;top:1072.51px">4BTA3.9-G2</div>
<div class="t d" style="left:424.50px;top:1072.51px">11</div>
<div class="t d" style="left:467.50px;top:1072.51px">23</div>
<div class="t d" style="left:517.00px;top:1072.51px">UCI224C</div>
<div class="t h" style="left:-31.60px;top:1097.51px">S70HC6</div>
<div class="t d" style="left:11.00px;top:1097.51px">70</div>
<div class="t d" style="left:43.00px;top:1097.51px">56</div>
<div class="t d" style="left:75.00px;top:1097.51px">62</div>
<div class="t d" style="left:107.00px;top:1097.51px">50</div>
<div class="t d" style="left:142.00px;top:1097.51px">15.9</div>
<div class="t d" style="left:204.50px;top:1097.51px">1900×783×1257</div>
<div class="t d" style="left:268.50px;top:1097.51px">926</div>
<div class="t d" style="left:307.50px;top:1097.51px">267</div>
<div class="t d" style="left:365.00px;top:1097.51px">4BTA3.9-G2</div>
<div class="t d" style="left:424.50px;top:1097.51px">11</div>
<div class="t d" style="left:467.50px;top:1097.51px">23</div>
<div class="t d" style="left:517.00px;top:1097.51px">UCI224D</div>
<div class="t h" style="left:-31.60px;top:1122.51px">S85HC6</div>
<div class="t d" style="left:11.00px;top:1122.51px">83</div>
<div class="t d" style="left:43.00px;top:1122.51px">66</div>
<div class="t d" style="left:75.00px;top:1122.51px">75</div>
<div class="t d" style="left:107.00px;top:1122.51px">60</div>
<div class="t d" style="left:142.00px;top:1122.51px">17.8</div>
<div class="t d" style="left:204.50px;top:1122.51px">1900×783×1257</div>
<div class="t d" style="left:268.50px;top:1122.51px">926</div>
<div class="t d" style="left:307.50px;top:1122.51px">267</div>
<div class="t d" style="left:365.00px;top:1122.51px">4BTA3.9-G2</div>
<div class="t d" style="left:424.50px;top:1122.51px">11</div>
<div class="t d" style="left:467.50px;top:1122.51px">23</div>
<div class="t d" style="left:517.00px;top:1122.51px">UCI224E</div>
<div class="t h" style="left:-31.60px;top:1148.51px">S95HC6</div>
<div class="t d" style="left:11.00px;top:1148.51px">94</div>
<div class="t d" style="left:43.00px;top:1148.51px">75</div>
<div class="t d" style="left:75.00px;top:1148.51px">85</div>
<div class="t d" style="left:107.00px;top:1148.51px">68</div>
<div class="t d" style="left:142.00px;top:1148.51px">20.5</div>
<div class="t d" style="left:204.50px;top:1148.51px">1900×783×1257</div>
<div class="t d" style="left:268.50px;top:1148.51px">926</div>
<div class="t d" style="left:307.50px;top:1148.51px">267</div>
<div class="t d" style="left:365.00px;top:1148.51px">4BTA3.9-G11</div>
<div class="t d" style="left:424.50px;top:1148.51px">11</div>
<div class="t d" style="left:467.50px;top:1148.51px">23</div>
<div class="t d" style="left:517.00px;top:1148.51px">UCI224F</div>
<div class="t h" style="left:-31.60px;top:1173.51px">S115HC6</div>
<div class="t d" style="left:11.00px;top:1173.51px">115</div>
<div class="t d" style="left:43.00px;top:1173.51px">92</div>
<div class="t d" style="left:75.00px;top:1173.51px">105</div>
<div class="t d" style="left:107.00px;top:1173.51px">84</div>
<div class="t d" style="left:142.00px;top:1173.51px">29</div>
<div class="t d" style="left:204.50px;top:1173.51px">2200×830×1278</div>
<div class="t d" style="left:268.50px;top:1173.51px">1272</div>
<div class="t d" style="left:307.50px;top:1173.51px">374</div>
<div class="t d" style="left:365.00px;top:1173.51px">6BT5.9-G2</div>
<div class="t d" style="left:424.50px;top:1173.51px">16</div>
<div class="t d" style="left:467.50px;top:1173.51px">24</div>
<div class="t d" style="left:517.00px;top:1173.51px">UCI224G</div>
<div class="t h" style="left:-31.60px;top:1198.51px">S138HC6</div>
<div class="t d" style="left:11.00px;top:1198.51px">138</div>
<div class="t d" style="left:43.00px;top:1198.51px">110</div>
<div class="t d" style="left:75.00px;top:1198.51px">125</div>
<div class="t d" style="left:107.00px;top:1198.51px">100</div>
<div class="t d" style="left:142.00px;top:1198.51px">31.3</div>
<div class="t d" style="left:204.50px;top:1198.51px">2200×830×1278</div>
<div class="t d" style="left:268.50px;top:1198.51px">1290</div>
<div class="t d" style="left:307.50px;top:1198.51px">374</div>
<div class="t d" style="left:365.00px;top:1198.51px">6BT5.9-G2</div>
<div class="t d" style="left:424.50px;top:1198.51px">16</div>
<div class="t d" style="left:467.50px;top:1198.51px">24</div>
<div class="t d" style="left:517.00px;top:1198.51px">UCI274C</div>
<div class="t h" style="left:-31.60px;top:1224.51px">S145HC6</div>
<div class="t d" style="left:11.00px;top:1224.51px">145</div>
<div class="t d" style="left:43.00px;top:1224.51px">116</div>
<div class="t d" style="left:75.00px;top:1224.51px">131</div>
<div class="t d" style="left:107.00px;top:1224.51px">105</div>
<div class="t d" style="left:142.00px;top:1224.51px">31</div>
<div class="t d" style="left:204.50px;top:1224.51px">2200×830×1325</div>
<div class="t d" style="left:268.50px;top:1224.51px">1290</div>
<div class="t d" style="left:307.50px;top:1224.51px">374</div>
<div class="t d" style="left:365.00px;top:1224.51px">6BTA5.9-G2</div>
<div class="t d" style="left:424.50px;top:1224.51px">16</div>
<div class="t d" style="left:467.50px;top:1224.51px">27</div>
<div class="t d" style="left:517.00px;top:1224.51px">UCI274D</div>
<div class="t h" style="left:-31.60px;top:1249.51px">S160HC6</div>
<div class="t d" style="left:11.00px;top:1249.51px">160</div>
<div class="t d" style="left:43.00px;top:1249.51px">128</div>
<div class="t d" style="left:75.00px;top:1249.51px">145</div>
<div class="t d" style="left:107.00px;top:1249.51px">116</div>
<div class="t d" style="left:142.00px;top:1249.51px">34.3</div>
<div class="t d" style="left:204.50px;top:1249.51px">2360×830×1334</div>
<div class="t d" style="left:268.50px;top:1249.51px">1370</div>
<div class="t d" style="left:307.50px;top:1249.51px">374</div>
<div class="t d" style="left:365.00px;top:1249.51px">6BTAA5.9-G2</div>
<div class="t d" style="left:424.50px;top:1249.51px">16</div>
<div class="t d" style="left:467.50px;top:1249.51px">28</div>
<div class="t d" style="left:517.00px;top:1249.51px">UCI274D</div>
<div class="t h" style="left:-31.60px;top:1274.51px">S185HC6</div>
<div class="t d" style="left:11.00px;top:1274.51px">185</div>
<div class="t d" style="left:43.00px;top:1274.51px">148</div>
<div class="t d" style="left:75.00px;top:1274.51px">168</div>
<div class="t d" style="left:107.00px;top:1274.51px">135</div>
<div class="t d" style="left:142.00px;top:1274.51px">37.8</div>
<div class="t d" style="left:204.50px;top:1274.51px">2360×830×1334</div>
<div class="t d" style="left:268.50px;top:1274.51px">1420</div>
<div class="t d" style="left:307.50px;top:1274.51px">374</div>
<div class="t d" style="left:365.00px;top:1274.51px">6BTAA5.9-G12</div>
<div class="t d" style="left:424.50px;top:1274.51px">16</div>
<div class="t d" style="left:467.50px;top:1274.51px">28</div>
<div class="t d" style="left:517.00px;top:1274.51px">UCI274E</div>
<div class="t h" style="left:-31.60px;top:1300.51px">S195HC6</div>
<div class="t d" style="left:11.00px;top:1300.51px">195</div>
<div class="t d" style="left:43.00px;top:1300.51px">157</div>
<div class="t d" style="left:75.00px;top:1300.51px">178</div>
<div class="t d" style="left:107.00px;top:1300.51px">143</div>
<div class="t d" style="left:142.00px;top:1300.51px">41.4</div>
<div class="t d" style="left:204.50px;top:1300.51px">2360×847×1366</div>
<div class="t d" style="left:268.50px;top:1300.51px">1755</div>
<div class="t d" style="left:307.50px;top:1300.51px">573</div>
<div class="t d" style="left:365.00px;top:1300.51px">6CTA8.3-G2</div>
<div class="t d" style="left:424.50px;top:1300.51px">24</div>
<div class="t d" style="left:467.50px;top:1300.51px">32</div>
<div class="t d" style="left:517.00px;top:1300.51px">UCI274E</div>
<div class="t h" style="left:-31.60px;top:1325.51px">S210HC6</div>
<div class="t d" style="left:11.00px;top:1325.51px">209</div>
<div class="t d" style="left:43.00px;top:1325.51px">167</div>
<div class="t d" style="left:75.00px;top:1325.51px">190</div>
<div class="t d" style="left:107.00px;top:1325.51px">152</div>
<div class="t d" style="left:142.00px;top:1325.51px">44.7</div>
<div class="t d" style="left:204.50px;top:1325.51px">2360×847×1366</div>
<div class="t d" style="left:268.50px;top:1325.51px">1755</div>
<div class="t d" style="left:307.50px;top:1325.51px">573</div>
<div class="t d" style="left:365.00px;top:1325.51px">6CTA8.3-G2</div>
<div class="t d" style="left:424.50px;top:1325.51px">24</div>
<div class="t d" style="left:467.50px;top:1325.51px">32</div>
<div class="t d" style="left:517.00px;top:1325.51px">UCI274F</div>
<div class="t h" style="left:-31.60px;top:1350.51px">S230HC6</div>
<div class="t d" style="left:11.00px;top:1350.51px">230</div>
<div class="t d" style="left:43.00px;top:1350.51px">184</div>
<div class="t d" style="left:75.00px;top:1350.51px">210</div>
<div class="t d" style="left:107.00px;top:1350.51px">168</div>
<div class="t d" style="left:142.00px;top:1350.51px">49</div>
<div class="t d" style="left:204.50px;top:1350.51px">2400×980×1460</div>
<div class="t d" style="left:268.50px;top:1350.51px">1800</div>
<div class="t d" style="left:307.50px;top:1350.51px">573</div>
<div class="t d" style="left:365.00px;top:1350.51px">6CTAA8.3-G2</div>
<div class="t d" style="left:424.50px;top:1350.51px">24</div>
<div class="t d" style="left:467.50px;top:1350.51px">34</div>
<div class="t d" style="left:517.00px;top:1350.51px">UCI274G</div>
<div class="t h" style="left:-31.60px;top:1376.01px">S275HC6</div>
<div class="t d" style="left:11.00px;top:1376.01px">275</div>
<div class="t d" style="left:43.00px;top:1376.01px">220</div>
<div class="t d" style="left:75.00px;top:1376.01px">250</div>
<div class="t d" style="left:107.00px;top:1376.01px">200</div>
<div class="t d" style="left:142.00px;top:1376.01px">54.4</div>
<div class="t d" style="left:204.50px;top:1376.01px">2540×1018×1527</div>
<div class="t d" style="left:268.50px;top:1376.01px">1940</div>
<div class="t d" style="left:307.50px;top:1376.01px">573</div>
<div class="t d" style="left:365.00px;top:1376.01px">6LTAA8.9-G2</div>
<div class="t d" style="left:424.50px;top:1376.01px">28</div>
<div class="t d" style="left:467.50px;top:1376.01px">35</div>
<div class="t d" style="left:517.00px;top:1376.01px">UCI274H</div>
<div class="t h" style="left:-31.60px;top:1401.51px">S285HC6</div>
<div class="t d" style="left:11.00px;top:1401.51px">285</div>
<div class="t d" style="left:43.00px;top:1401.51px">228</div>
<div class="t d" style="left:75.00px;top:1401.51px">260</div>
<div class="t d" style="left:107.00px;top:1401.51px">208</div>
<div class="t d" style="left:142.00px;top:1401.51px">60</div>
<div class="t d" style="left:204.50px;top:1401.51px">2540×1018×1527</div>
<div class="t d" style="left:268.50px;top:1401.51px">1940</div>
<div class="t d" style="left:307.50px;top:1401.51px">573</div>
<div class="t d" style="left:365.00px;top:1401.51px">6LTAA8.9-G2</div>
<div class="t d" style="left:424.50px;top:1401.51px">28</div>
<div class="t d" style="left:467.50px;top:1401.51px">35</div>
<div class="t d" style="left:517.00px;top:1401.51px">UCDI274J</div>
<div class="t h" style="left:-31.60px;top:1426.51px">S315HC6</div>
<div class="t d" style="left:11.00px;top:1426.51px">315</div>
<div class="t d" style="left:43.00px;top:1426.51px">252</div>
<div class="t d" style="left:75.00px;top:1426.51px">283</div>
<div class="t d" style="left:107.00px;top:1426.51px">226</div>
<div class="t d" style="left:142.00px;top:1426.51px">62</div>
<div class="t d" style="left:204.50px;top:1426.51px">2540×1018×1527</div>
<div class="t d" style="left:268.50px;top:1426.51px">1940</div>
<div class="t d" style="left:307.50px;top:1426.51px">573</div>
<div class="t d" style="left:365.00px;top:1426.51px">6LTAA8.9-G3</div>
<div class="t d" style="left:424.50px;top:1426.51px">28</div>
<div class="t d" style="left:467.50px;top:1426.51px">35</div>
<div class="t d" style="left:517.00px;top:1426.51px">UCDI274J</div>
<div class="t h" style="left:-31.60px;top:1452.01px">S320HC6</div>
<div class="t d" style="left:11.00px;top:1452.01px">320</div>
<div class="t d" style="left:43.00px;top:1452.01px">256</div>
<div class="t d" style="left:75.00px;top:1452.01px">291</div>
<div class="t d" style="left:107.00px;top:1452.01px">233</div>
<div class="t d" style="left:142.00px;top:1452.01px">65</div>
<div class="t d" style="left:204.50px;top:1452.01px">/</div>
<div class="t d" style="left:268.50px;top:1452.01px">/</div>
<div class="t d" style="left:307.50px;top:1452.01px">/</div>
<div class="t d" style="left:365.00px;top:1452.01px">6LTAA9.5-G3</div>
<div class="t d" style="left:424.50px;top:1452.01px">32</div>
<div class="t d" style="left:467.50px;top:1452.01px">59</div>
<div class="t d" style="left:517.00px;top:1452.01px">UCDI274J</div>
<div class="t h" style="left:-31.60px;top:1477.51px">S340HC6</div>
<div class="t d" style="left:11.00px;top:1477.51px">340</div>
<div class="t d" style="left:43.00px;top:1477.51px">272</div>
<div class="t d" style="left:75.00px;top:1477.51px">310</div>
<div class="t d" style="left:107.00px;top:1477.51px">248</div>
<div class="t d" style="left:142.00px;top:1477.51px">68</div>
<div class="t d" style="left:204.50px;top:1477.51px">/</div>
<div class="t d" style="left:268.50px;top:1477.51px">/</div>
<div class="t d" style="left:307.50px;top:1477.51px">/</div>
<div class="t d" style="left:365.00px;top:1477.51px">6LTAA9.5-G1</div>
<div class="t d" style="left:424.50px;top:1477.51px">32</div>
<div class="t d" style="left:467.50px;top:1477.51px">59</div>
<div class="t d" style="left:517.00px;top:1477.51px">UCDI274K</div>
<div class="t h" style="left:-31.60px;top:1502.51px">S355HC6</div>
<div class="t d" style="left:11.00px;top:1502.51px">355</div>
<div class="t d" style="left:43.00px;top:1502.51px">284</div>
<div class="t d" style="left:75.00px;top:1502.51px">/</div>
<div class="t d" style="left:107.00px;top:1502.51px">/</div>
<div class="t d" style="left:142.00px;top:1502.51px">77</div>
<div class="t d" style="left:204.50px;top:1502.51px">2940×1000×1555</div>
<div class="t d" style="left:268.50px;top:1502.51px">3090</div>
<div class="t d" style="left:307.50px;top:1502.51px">883</div>
<div class="t d" style="left:365.00px;top:1502.51px">QSM11-G2</div>
<div class="t d" style="left:424.50px;top:1502.51px">37</div>
<div class="t d" style="left:467.50px;top:1502.51px">39</div>
<div class="t d" style="left:517.00px;top:1502.51px">HCI444D</div>
<div class="t h" style="left:-31.60px;top:1528.01px">S425HC6</div>
<div class="t d" style="left:11.00px;top:1528.01px">425</div>
<div class="t d" style="left:43.00px;top:1528.01px">340</div>
<div class="t d" style="left:75.00px;top:1528.01px">388</div>
<div class="t d" style="left:107.00px;top:1528.01px">310</div>
<div class="t d" style="left:142.00px;top:1528.01px">77.8</div>
<div class="t d" style="left:204.50px;top:1528.01px">3250×1360×2100</div>
<div class="t d" style="left:268.50px;top:1528.01px">3600</div>
<div class="t d" style="left:307.50px;top:1528.01px">1594</div>
<div class="t d" style="left:365.00px;top:1528.01px">6ZTAA13-G3</div>
<div class="t d" style="left:424.50px;top:1528.01px">45</div>
<div class="t d" style="left:467.50px;top:1528.01px">75</div>
<div class="t d" style="left:517.00px;top:1528.01px">HCI444ES</div>
<div class="t h" style="left:-31.60px;top:1553.51px">S388CC6</div>
<div class="t d" style="left:11.00px;top:1553.51px">388</div>
<div class="t d" style="left:43.00px;top:1553.51px">310</div>
<div class="t d" style="left:75.00px;top:1553.51px">350</div>
<div class="t d" style="left:107.00px;top:1553.51px">280</div>
<div class="t d" style="left:142.00px;top:1553.51px">89.2</div>
<div class="t d" style="left:204.50px;top:1553.51px">3100×1360×2100</div>
<div class="t d" style="left:268.50px;top:1553.51px">3460</div>
<div class="t d" style="left:307.50px;top:1553.51px">1594</div>
<div class="t d" style="left:365.00px;top:1553.51px">QSZ13-G6</div>
<div class="t d" style="left:424.50px;top:1553.51px">45</div>
<div class="t d" style="left:467.50px;top:1553.51px">79</div>
<div class="t d" style="left:517.00px;top:1553.51px">HCI444D</div>
<div class="t h" style="left:-31.60px;top:1578.51px">S475HC6</div>
<div class="t d" style="left:11.00px;top:1578.51px">475</div>
<div class="t d" style="left:43.00px;top:1578.51px">380</div>
<div class="t d" style="left:75.00px;top:1578.51px">438</div>
<div class="t d" style="left:107.00px;top:1578.51px">350</div>
<div class="t d" style="left:142.00px;top:1578.51px">92.8</div>
<div class="t d" style="left:204.50px;top:1578.51px">3250×1360×2100</div>
<div class="t d" style="left:268.50px;top:1578.51px">3600</div>
<div class="t d" style="left:307.50px;top:1578.51px">1594</div>
<div class="t d" style="left:365.00px;top:1578.51px">6ZTAA13-G2</div>
<div class="t d" style="left:424.50px;top:1578.51px">45</div>
<div class="t d" style="left:467.50px;top:1578.51px">75</div>
<div class="t d" style="left:517.00px;top:1578.51px">HCI444E</div>
<div class="t h" style="left:-31.60px;top:1604.01px">S475HC6</div>
<div class="t d" style="left:11.00px;top:1604.01px">475</div>
<div class="t d" style="left:43.00px;top:1604.01px">380</div>
<div class="t d" style="left:75.00px;top:1604.01px">438</div>
<div class="t d" style="left:107.00px;top:1604.01px">350</div>
<div class="t d" style="left:142.00px;top:1604.01px">95.2</div>
<div class="t d" style="left:204.50px;top:1604.01px">3250×1360×2100</div>
<div class="t d" style="left:268.50px;top:1604.01px">3600</div>
<div class="t d" style="left:307.50px;top:1604.01px">1594</div>
<div class="t d" style="left:365.00px;top:1604.01px">6ZTAA13-G4</div>
<div class="t d" style="left:424.50px;top:1604.01px">45</div>
<div class="t d" style="left:467.50px;top:1604.01px">75</div>
<div class="t d" style="left:517.00px;top:1604.01px">HCI444E</div>
<div class="t h" style="left:-31.60px;top:1629.51px">S470HC6</div>
<div class="t d" style="left:11.00px;top:1629.51px">469</div>
<div class="t d" style="left:43.00px;top:1629.51px">375</div>
<div class="t d" style="left:75.00px;top:1629.51px">438</div>
<div class="t d" style="left:107.00px;top:1629.51px">350</div>
<div class="t d" style="left:142.00px;top:1629.51px">90.7</div>
<div class="t d" style="left:204.50px;top:1629.51px">3200×1360×2100</div>
<div class="t d" style="left:268.50px;top:1629.51px">3600</div>
<div class="t d" style="left:307.50px;top:1629.51px">1594</div>
<div class="t d" style="left:365.00px;top:1629.51px">QSZ13-G2</div>
<div class="t d" style="left:424.50px;top:1629.51px">45</div>
<div class="t d" style="left:467.50px;top:1629.51px">77</div>
<div class="t d" style="left:517.00px;top:1629.51px">HCI444E</div>
<div class="t h" style="left:-31.60px;top:1654.51px">S488HC6</div>
<div class="t d" style="left:11.00px;top:1654.51px">488</div>
<div class="t d" style="left:43.00px;top:1654.51px">390</div>
<div class="t d" style="left:75.00px;top:1654.51px">450</div>
<div class="t d" style="left:107.00px;top:1654.51px">360</div>
<div class="t d" style="left:142.00px;top:1654.51px">101.8</div>
<div class="t d" style="left:204.50px;top:1654.51px">3200×1360×2100</div>
<div class="t d" style="left:268.50px;top:1654.51px">3600</div>
<div class="t d" style="left:307.50px;top:1654.51px">1594</div>
<div class="t d" style="left:365.00px;top:1654.51px">QSZ13-G7</div>
<div class="t d" style="left:424.50px;top:1654.51px">45</div>
<div class="t d" style="left:467.50px;top:1654.51px">79</div>
<div class="t d" style="left:517.00px;top:1654.51px">HCI444FS</div>
<div class="t h" style="left:-31.60px;top:1680.01px">S500HC6</div>
<div class="t d" style="left:11.00px;top:1680.01px">500</div>
<div class="t d" style="left:43.00px;top:1680.01px">400</div>
<div class="t d" style="left:75.00px;top:1680.01px">475</div>
<div class="t d" style="left:107.00px;top:1680.01px">380</div>
<div class="t d" style="left:142.00px;top:1680.01px">104.8</div>
<div class="t d" style="left:204.50px;top:1680.01px">3200×1360×2100</div>
<div class="t d" style="left:268.50px;top:1680.01px">3600</div>
<div class="t d" style="left:307.50px;top:1680.01px">1594</div>
<div class="t d" style="left:365.00px;top:1680.01px">QSZ13-G3</div>
<div class="t d" style="left:424.50px;top:1680.01px">45</div>
<div class="t d" style="left:467.50px;top:1680.01px">75</div>
<div class="t d" style="left:517.00px;top:1680.01px">HCI444FS</div>
<div class="t h" style="left:-31.60px;top:1705.51px">S525HC6</div>
<div class="t d" style="left:11.00px;top:1705.51px">525</div>
<div class="t d" style="left:43.00px;top:1705.51px">420</div>
<div class="t d" style="left:75.00px;top:1705.51px">475</div>
<div class="t d" style="left:107.00px;top:1705.51px">380</div>
<div class="t d" style="left:142.00px;top:1705.51px">102.7</div>
<div class="t d" style="left:204.50px;top:1705.51px">3200×1360×2100</div>
<div class="t d" style="left:268.50px;top:1705.51px">3600</div>
<div class="t d" style="left:307.50px;top:1705.51px">1594</div>
<div class="t d" style="left:365.00px;top:1705.51px">QSZ13-G5</div>
<div class="t d" style="left:424.50px;top:1705.51px">45</div>
<div class="t d" style="left:467.50px;top:1705.51px">79</div>
<div class="t d" style="left:517.00px;top:1705.51px">HCI444FS</div>
<div class="n" style="left:5px;top:800.50px;transform:scaleX(1.0545)">Note:1.The genset with KTA50-G9 engine whose prime power is 1260kW, standby power can reach to 1500kW.</div>
<div class="n" style="left:18px;top:813.70px;transform:scaleX(1.0578)">2.The genset with KTAA19-G5 engine whose prime power can reach to more than 500kW.</div>
<div class="n" style="left:18px;top:827.80px;transform:scaleX(1.0428)">3.The genset composed of KT38-G engine and any alternator, whose prime power can reach to a max of 620kW and standby power can reach to 680kW.</div>
<div class="n" style="left:5px;top:840.90px;transform:scaleX(1.0601)">But this kind of genset needs to be selected from non-standard type.</div>
<div class="n" style="left:18px;top:853.50px;transform:scaleX(1.0574)">4.AS ECO43 2S4 alternator&#x27;s prime power is 893kW, after composed with KTA38-G4 engine, the genset&#x27;s prime power will be down to 890kW.</div>
<div class="n" style="left:4.5px;top:1737.50px;transform:scaleX(1.0404)">Note:1.S60HC(S)/S70HC(S)&#x27;s engine refers to 4BTA3.9-G2/QC50/60E;</div>
<div class="n" style="left:20px;top:1751.00px;transform:scaleX(1.0419)">2.S85HC6(S)&#x27;s engine refers to 4BTA3.9-G2/QC58/67E;</div>
<div class="n" style="left:20px;top:1764.40px;transform:scaleX(1.0444)">3.S115HC6(S)&#x27;s engine refers to 6BT5.9-G2(QC86/110E);</div>
<div class="n" style="left:20px;top:1778.00px;transform:scaleX(1.0414)">4.S138HC6(S)&#x27;s engine refers to 6BT5.9-G2(QC96/115E).</div>
<div id="pg"></div>
</body></html>
